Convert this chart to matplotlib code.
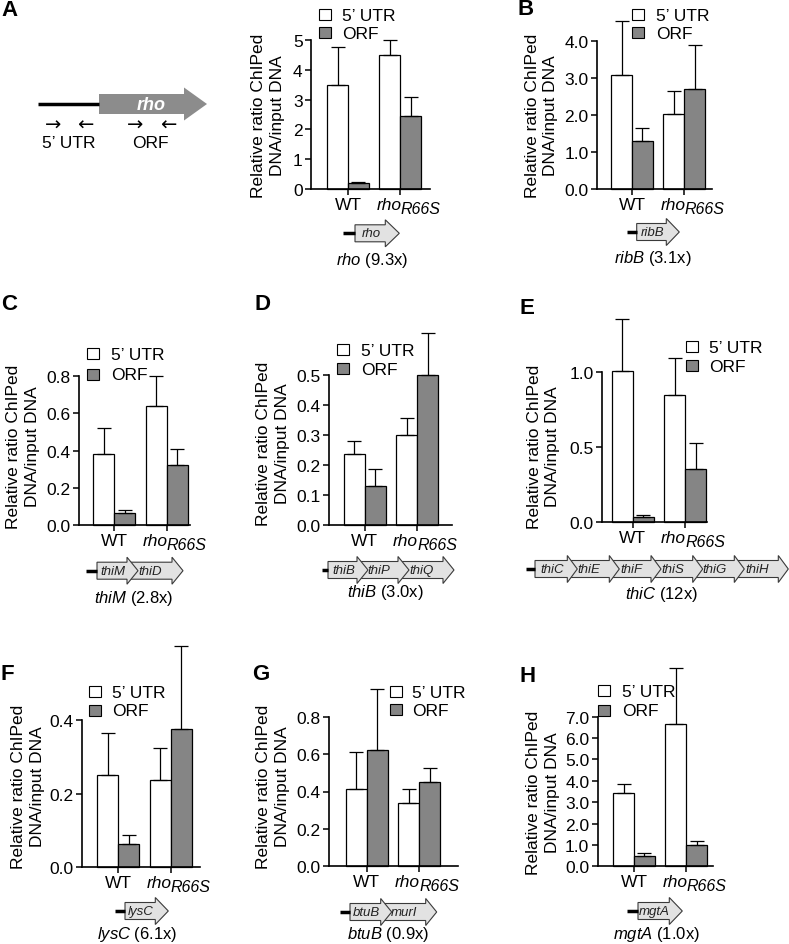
import numpy as np
import matplotlib
matplotlib.use('Agg')
import matplotlib.pyplot as plt
from matplotlib.patches import Polygon, Rectangle

plt.rcParams['font.family'] = ['Liberation Sans', 'DejaVu Sans']
plt.rcParams['mathtext.fontset'] = 'custom'
plt.rcParams['mathtext.rm'] = 'Liberation Sans'
plt.rcParams['mathtext.it'] = 'Liberation Sans:italic'

## data, panels A..H, values for [WT, rho R66S]
panels = ['A', 'B', 'C', 'D', 'E', 'F', 'G', 'H']
strains = ['WT', 'rho']
mutation = 'R66S'
series = ['5\u2019 UTR', 'ORF']

utr_vals = [[3.49, 4.50], [3.09, 2.04], [0.38, 0.638], [0.236, 0.30],
            [1.01, 0.848], [0.251, 0.238], [0.413, 0.337], [3.41, 6.64]]
utr_errs = [[1.26, 0.48], [1.46, 0.60], [0.14, 0.165], [0.043, 0.056],
            [0.35, 0.25], [0.115, 0.087], [0.197, 0.078], [0.44, 2.63]]
orf_vals = [[0.22, 2.45], [1.30, 2.69], [0.066, 0.323], [0.13, 0.50],
            [0.033, 0.353], [0.064, 0.375], [0.624, 0.451], [0.47, 1.00]]
orf_errs = [[0.03, 0.65], [0.34, 1.21], [0.016, 0.084], [0.056, 0.14],
            [0.012, 0.176], [0.024, 0.227], [0.324, 0.076], [0.15, 0.17]]

y_tops = [5, 4.0, 0.8, 0.5, 1.0, 0.4, 0.8, 7.0]
y_steps = [1, 1.0, 0.2, 0.1, 0.5, 0.2, 0.2, 1.0]

operons = [['rho'], ['ribB'], ['thiM', 'thiD'], ['thiB', 'thiP', 'thiQ'],
           ['thiC', 'thiE', 'thiF', 'thiS', 'thiG', 'thiH'], ['lysC'],
           ['btuB', 'murI'], ['mgtA']]
lead_genes = ['rho', 'ribB', 'thiM', 'thiB', 'thiC', 'lysC', 'btuB', 'mgtA']
folds = ['9.3x', '3.1x', '2.8x', '3.0x', '12x', '6.1x', '0.9x', '1.0x']

## layout in pixels
W, H = 789, 945
# x left spine, x right end, y of top tick, y of zero, x of WT tick
axes_px = [(311, 430, 40.7, 190.3, 348), (597, 712, 42, 190, 632),
           (79, 190, 377.3, 526, 114.3), (329.3, 451.7, 376, 525.7, 364.7),
           (602.3, 706.7, 373.3, 522.7, 632.7), (82.3, 200, 721, 868.3, 118.3),
           (329.3, 457.7, 717.7, 867.3, 366.7), (597.7, 712.7, 717.7, 867.3, 634)]
ylab_px = [(268, 116), (541.7, 116), (23.3, 447), (273.3, 444),
           (543.7, 446.5), (28.3, 787), (273.3, 787), (543.3, 793)]
# legend: box left x, y of first row, y of second row, text x
leg_px = [(319, 15.8, 33.8, 341.7), (632.3, 15.3, 33.7, 656), (86.7, 354, 375, 111),
          (337.3, 350.5, 369.7, 361), (685.7, 347.5, 366, 709.3), (89, 692, 711, 111.7),
          (390, 692, 710.5, 411.7), (598.3, 691.7, 711, 621.7)]
# gene row: line start, first gene start, tips, y centre, label x, label y, head length
gene_px = [(343, 355, [399.3], 234.3, 371.7, 260, 14),
           (626.7, 636.7, [679.3], 233, 653, 258, 13),
           (86, 97, [138, 183], 571.7, 134, 598, 11),
           (322, 328, [368, 409, 454], 571, 385.5, 593, 11),
           (526, 535, [577.3, 619.3, 661, 702.7, 744.3, 788.3], 570, 661.5, 595, 10),
           (115, 125, [168.3], 912, 137.5, 935, 13),
           (340, 350, [391.7, 436.7], 913, 388, 934, 11),
           (627, 638, [682.3], 912, 656.7, 934, 13)]
letter_px = [(1, 10), (518, 9.5), (1, 305), (255, 305), (520, 308.5),
             (1, 674.5), (252, 674.5), (520, 676)]

grey = '#858585'
px_unit = 52.4
fs = 12.5

fig = plt.figure(figsize=(W / 100, H / 100), dpi=100)
ov = fig.add_axes([0, 0, 1, 1])
ov.set_xlim(0, W)
ov.set_ylim(H, 0)
ov.axis('off')
ov.set_zorder(0)


def gene_arrow(x0, x1, yc, name, hl):
    bh, hh = 8.5, 13.5
    pts = [(x0, yc - bh), (x1 - hl, yc - bh), (x1 - hl, yc - hh), (x1, yc),
           (x1 - hl, yc + hh), (x1 - hl, yc + bh), (x0, yc + bh)]
    ov.add_patch(Polygon(pts, closed=True, fc='#e2e2e2', ec='#3a3a3a', lw=0.8))
    ov.text((x0 + x1 - hl) / 2 + 1, yc, name, style='italic', fontsize=9.5,
            ha='center', va='center', color='#222222')


for i in range(len(panels)):
    xl, xr, yt, y0, xt = axes_px[i]
    ax = fig.add_axes([xl / W, 1 - y0 / H, (xr - xl) / W, (y0 - yt) / H])
    ax.set_zorder(1)
    ax.patch.set_alpha(0)
    ax.set_xlim((xl - xt) / px_unit, (xr - xt) / px_unit)
    ax.set_ylim(0, y_tops[i])
    x = np.arange(2)
    ax.bar(x - 0.2, utr_vals[i], 0.4, color='white', edgecolor='black', lw=0.9, clip_on=False)
    ax.bar(x + 0.2, orf_vals[i], 0.4, color=grey, edgecolor='black', lw=0.9, clip_on=False)
    for xs, v, e in [(x - 0.2, utr_vals[i], utr_errs[i]), (x + 0.2, orf_vals[i], orf_errs[i])]:
        eb = ax.errorbar(xs, v, yerr=[[0, 0], e], fmt='none', ecolor='black',
                         elinewidth=0.9, capsize=5, capthick=0.9)
        for art in eb.lines[1] + eb.lines[2]:
            art.set_clip_on(False)
    for s in ['top', 'right']:
        ax.spines[s].set_visible(False)
    for s in ['left', 'bottom']:
        ax.spines[s].set_linewidth(1.2)
    ticks = np.arange(0, y_tops[i] + y_steps[i] / 2, y_steps[i])
    ax.set_yticks(ticks)
    if i == 0:
        ax.set_yticklabels(['%d' % t for t in ticks])
    else:
        ax.set_yticklabels(['%.1f' % t for t in ticks])
    ax.set_xticks(x)
    ax.set_xticklabels(['', ''])
    ax.tick_params(direction='out', length=4, width=1.1, labelsize=fs, pad=2)

    # x labels, WT and rho with subscript
    cx = ('data', 'axes fraction')
    ax.annotate(strains[0], (0, 0), xycoords=cx, xytext=(0, -20), textcoords='offset pixels',
                ha='center', va='baseline', fontsize=fs)
    ax.annotate(strains[1], (1, 0), xycoords=cx, xytext=(1, -20), textcoords='offset pixels',
                ha='right', va='baseline', fontsize=fs, style='italic')
    ax.annotate(mutation, (1, 0), xycoords=cx, xytext=(0, -24), textcoords='offset pixels',
                ha='left', va='baseline', fontsize=11.5, style='italic')

    # y label
    lx, ly = ylab_px[i]
    ov.text(lx, ly, 'Relative ratio ChIPed\nDNA/input DNA', rotation=90, fontsize=fs,
            ha='center', va='center', multialignment='center', linespacing=1.3)

    # legend
    bx, ly1, ly2, tx = leg_px[i]
    for yy, fc, lab in [(ly1, 'white', series[0]), (ly2, grey, series[1])]:
        ov.add_patch(Rectangle((bx, yy - 5.5), 12, 11, fc=fc, ec='black', lw=0.8))
        ov.text(tx, yy + 1, lab, fontsize=fs, ha='left', va='center')

    # gene diagram
    lx0, gx0, tips, yc, gl_x, gl_y, hl = gene_px[i]
    ov.plot([lx0, gx0], [yc, yc], color='black', lw=2.5, solid_capstyle='butt')
    starts = [gx0] + [t - hl for t in tips[:-1]]
    for j in range(len(tips) - 1, -1, -1):
        gene_arrow(starts[j], tips[j], yc, operons[i][j], hl)
    ov.text(gl_x, gl_y, r'$\mathit{%s}$ (%s)' % (lead_genes[i], folds[i]), fontsize=12,
            ha='center', va='center')

    # panel letter
    ov.text(letter_px[i][0], letter_px[i][1], panels[i], fontsize=16, fontweight='bold',
            ha='left', va='center')

## schematic in panel A
ov.plot([38, 99], [105, 105], color='black', lw=2.5, solid_capstyle='butt')
ov.add_patch(Polygon([(99, 95), (184, 95), (184, 88.5), (207, 105), (184, 121.5),
                      (184, 115), (99, 115)], closed=True, fc='#8c8c8c', ec='none'))
ov.text(151, 105, 'rho', color='white', fontsize=13, style='italic', fontweight='bold',
        ha='center', va='center')
for ax_x, ch in [(53, '\u2192'), (85, '\u2190'), (135, '\u2192'), (168, '\u2190')]:
    ov.text(ax_x, 125, ch, fontsize=14, ha='center', va='center', family='DejaVu Sans')
ov.text(69, 143, '5\u2019 UTR', fontsize=fs, ha='center', va='center')
ov.text(150, 143, 'ORF', fontsize=fs, ha='center', va='center')

fig.savefig('out.png', dpi=100)
